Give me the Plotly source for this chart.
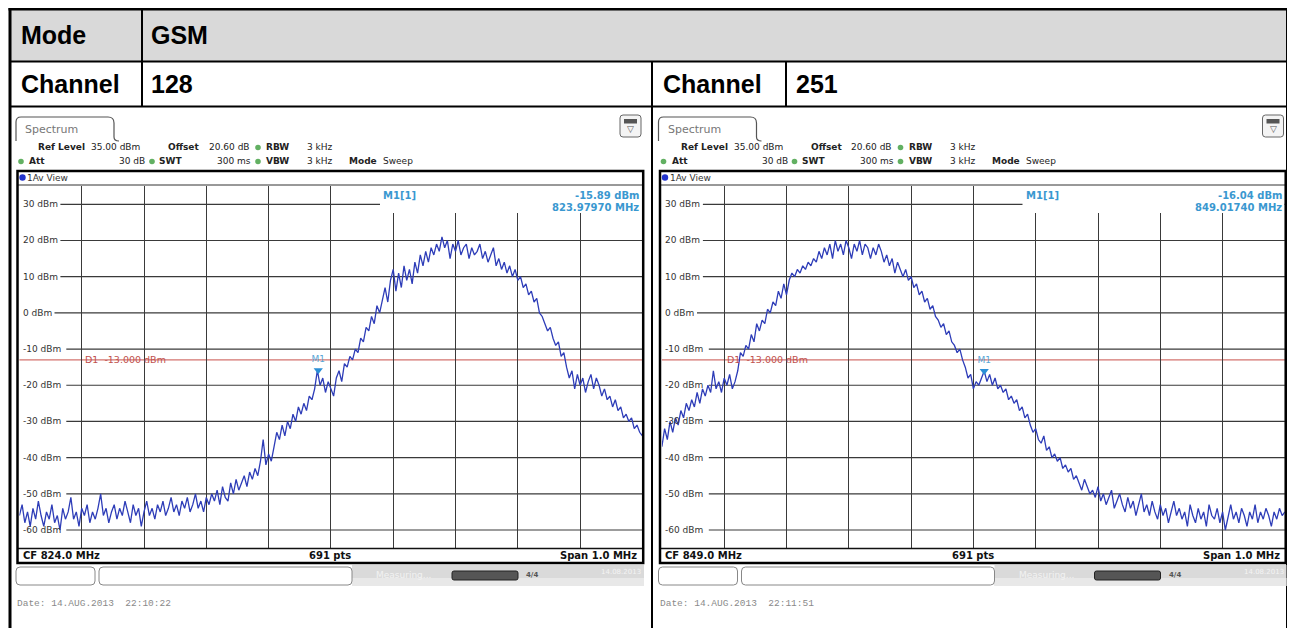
import numpy as np
import plotly.graph_objects as go

# page has an 8px body margin: figure is offset by it
OFF = 8
FW, FH = 1287, 620
FONT = "DejaVu Sans"
TFONT = "Liberation Sans"
MONO = "Liberation Mono"

# ---------------- data ----------------
mode_name = "GSM"
channels = ["128", "251"]
center_freqs_mhz = [824.0, 849.0]
span_mhz = 1.0
sweep_points = 691
ref_level_dbm = 35.0
bottom_level_dbm = -65.0
ytick_vals = [30, 20, 10, 0, -10, -20, -30, -40, -50, -60]
d1_limit_dbm = -13.0
marker_freqs_mhz = [823.97970, 849.01740]
marker_levels_dbm = [-15.89, -16.04]
sweep_date = "14.AUG.2013"
sweep_times = ["22:10:22", "22:11:51"]

setting_ref_level = "35.00 dBm"
setting_offset = "20.60 dB"
setting_rbw = "3 kHz"
setting_vbw = "3 kHz"
setting_att = "30 dB"
setting_swt = "300 ms"
setting_mode = "Sweep"

level_ch128 = [
    -56, -53, -58, -55, -59, -54, -57, -52, -56, -59,
    -55, -57, -53, -58, -56, -60, -54, -57, -55, -51,
    -57, -55, -59, -54, -56, -53, -58, -55, -57, -54,
    -50, -56, -54, -58, -55, -53, -57, -54, -56, -52,
    -55, -58, -53, -56, -54, -59, -55, -52, -56, -54,
    -57, -53, -55, -52, -56, -54, -51, -55, -53, -56,
    -52, -54, -51, -55, -53, -50, -54, -52, -55, -51,
    -53, -50, -52, -49, -53, -48, -51, -52, -47, -50,
    -46, -49, -47, -45, -48, -44, -46, -43, -45, -41,
    -35, -42, -39, -41, -37, -33, -35, -31, -34, -30,
    -32, -28, -30, -26, -28, -25, -27, -23, -24, -21,
    -15.89, -20, -18, -22, -19, -21, -23, -18, -16, -19,
    -14, -15, -12, -13, -10, -11, -7, -8, -4, -5,
    -1, -3, 2, 0, 4, 7, 3, 9, 12, 6,
    11, 7, 13, 9, 12, 8, 14, 11, 16, 13,
    17, 14, 18, 16, 19, 17, 21, 18, 20, 15,
    19, 17, 20, 16, 18, 19, 15, 18, 16, 17,
    19, 15, 17, 14, 16, 18, 13, 15, 12, 14,
    11, 13, 10, 12, 9, 10, 7, 8, 5, 6,
    3, 4, 0, -1, -3, -5, -4, -7, -9, -8,
    -12, -11, -15, -18, -16, -21, -17, -20, -18, -22,
    -19, -17, -21, -18, -20, -23, -21, -24, -23, -26,
    -24, -27, -26, -29, -28, -30, -29, -32, -31, -33,
    -34,
]

level_ch251 = [
    -37, -32, -35, -30, -33, -29, -31, -27, -29, -25,
    -27, -24, -26, -22, -25, -21, -23, -20, -22, -16,
    -21, -19, -22, -18, -20, -17, -21, -19, -16, -11,
    -12, -9, -10, -6, -8, -3, -5, -2, -3, 1,
    0, 3, 2, 6, 4, 8, 5, 9, 11, 10,
    12, 11, 13, 12, 14, 13, 15, 14, 17, 15,
    18, 16, 19, 15, 20, 17, 19, 16, 20, 18,
    15, 19, 17, 20, 16, 19, 18, 15, 18, 16,
    19, 17, 14, 16, 13, 15, 11, 14, 12, 10,
    12, 9, 10, 7, 8, 5, 6, 3, 4, 1,
    2, -1, -2, -4, -3, -6, -5, -8, -9, -11,
    -10, -13, -15, -18, -17, -21, -19, -20, -18, -16.04,
    -19, -17, -20, -18, -21, -20, -22, -21, -24, -23,
    -25, -24, -27, -26, -29, -28, -31, -33, -32, -35,
    -36, -34, -38, -37, -40, -39, -41, -40, -43, -42,
    -44, -43, -46, -45, -47, -49, -46, -48, -50, -49,
    -51, -48, -52, -50, -53, -51, -49, -54, -52, -50,
    -53, -55, -51, -54, -52, -56, -53, -50, -55, -53,
    -56, -52, -55, -57, -53, -56, -54, -58, -55, -52,
    -56, -54, -57, -55, -59, -53, -56, -58, -54, -57,
    -55, -59, -53, -56, -57, -54, -58, -55, -60, -56,
    -53, -57, -55, -58, -54, -56, -59, -55, -57, -53,
    -58, -55, -57, -54, -56, -59, -55, -57, -54, -56,
    -55,
]


# ---------------- helpers (reference page pixels -> paper) ----------------
def X(p):
    return (p - OFF) / FW


def Y(p):
    return 1 - (p - OFF) / FH


shapes, annots, traces = [], [], []


def add_line(x0, y0, x1, y1, color="#000", w=1.0, layer="above"):
    shapes.append(dict(type="line", xref="paper", yref="paper",
                       x0=X(x0), y0=Y(y0), x1=X(x1), y1=Y(y1),
                       line=dict(color=color, width=w), layer=layer))


def add_rect(x0, y0, x1, y1, fill="rgba(0,0,0,0)", color="rgba(0,0,0,0)", w=0, layer="above"):
    shapes.append(dict(type="rect", xref="paper", yref="paper",
                       x0=X(x0), y0=Y(y0), x1=X(x1), y1=Y(y1),
                       fillcolor=fill, line=dict(color=color, width=w), layer=layer))


def add_rrect(x0, y0, x1, y1, r, fill, color, w=1.0, layer="above"):
    p = (f"M {X(x0 + r)} {Y(y0)} L {X(x1 - r)} {Y(y0)} Q {X(x1)} {Y(y0)} {X(x1)} {Y(y0 + r)} "
         f"L {X(x1)} {Y(y1 - r)} Q {X(x1)} {Y(y1)} {X(x1 - r)} {Y(y1)} L {X(x0 + r)} {Y(y1)} "
         f"Q {X(x0)} {Y(y1)} {X(x0)} {Y(y1 - r)} L {X(x0)} {Y(y0 + r)} Q {X(x0)} {Y(y0)} {X(x0 + r)} {Y(y0)} Z")
    shapes.append(dict(type="path", xref="paper", yref="paper", path=p,
                       fillcolor=fill, line=dict(color=color, width=w), layer=layer))


def add_dot(cx, cy, r, color):
    shapes.append(dict(type="circle", xref="paper", yref="paper",
                       x0=X(cx - r), x1=X(cx + r), y0=Y(cy + r), y1=Y(cy - r),
                       fillcolor=color, line=dict(width=0), layer="above"))


def add_text(x, y, s, size=9, color="#222", anchor="left", family=FONT):
    annots.append(dict(xref="paper", yref="paper", x=X(x), y=Y(y), text=s, showarrow=False,
                       xanchor=anchor, yanchor="middle", borderpad=0,
                       font=dict(size=size, color=color, family=family)))


NB = "\u00a0"

# ---------------- table ----------------
RB = 1287.5  # right table border (kept inside the visible page)
add_rect(10, 9, RB, 61, fill="#d9d9d9", layer="below")
add_line(8.5, 9, RB + 1.5, 9, w=3)
add_line(10, 7.5, 10, 640, w=3)
add_line(RB, 7.5, RB, 640, w=3)
add_line(10, 61.5, RB, 61.5, w=2)
add_line(10, 106.5, RB, 106.5, w=2)
add_line(142, 9, 142, 106.5, w=2)
add_line(652, 61, 652, 640, w=2)
add_line(786, 61, 786, 106.5, w=2)

TS = 25
add_text(20, 35, "<b>Mode</b>", size=TS, color="#000", family=TFONT)
add_text(150, 35, f"<b>{mode_name}</b>", size=TS, color="#000", family=TFONT)
add_text(20, 84, "<b>Channel</b>", size=TS, color="#000", family=TFONT)
add_text(150, 84, f"<b>{channels[0]}</b>", size=TS, color="#000", family=TFONT)
add_text(662, 84, "<b>Channel</b>", size=TS, color="#000", family=TFONT)
add_text(795, 84, f"<b>{channels[1]}</b>", size=TS, color="#000", family=TFONT)

# ---------------- spectrum panels ----------------
PL, PR, PT, PB = 19.4, 642.4, 186.2, 548.1
offsets = [0.0, 642.5]
levels_all = [level_ch128, level_ch251]
GRID = "#3a3a3a"
GREEN = "#62b062"
MKC = "#3a98d0"
layout_axes = {}

for k in range(2):
    ox = offsets[k]
    cf = center_freqs_mhz[k]
    f0, f1 = cf - span_mhz / 2, cf + span_mhz / 2
    levels = levels_all[k]
    freqs = np.linspace(f0, f1, len(levels))
    xa, ya = ("xaxis", "yaxis") if k == 0 else ("xaxis2", "yaxis2")
    xr, yr = ("x", "y") if k == 0 else ("x2", "y2")

    layout_axes[xa] = dict(domain=[X(PL + ox), X(PR + ox)], range=[f0, f1],
                           showgrid=True, gridcolor=GRID, gridwidth=1.2,
                           tickmode="array", tickvals=list(np.linspace(f0, f1, 11)),
                           showticklabels=False, ticks="", zeroline=False,
                           showline=False, anchor=yr, fixedrange=True)
    layout_axes[ya] = dict(domain=[Y(PB), Y(PT)], range=[bottom_level_dbm, ref_level_dbm],
                           showgrid=False, showticklabels=False, ticks="", zeroline=False,
                           showline=False, anchor=xr, fixedrange=True)

    # horizontal grid + labels
    for v in ytick_vals:
        lab = f"{v} dBm"
        start = 22 + 5.9 * len(lab) + 3
        shapes.append(dict(type="line", xref=f"{xr} domain", yref=yr,
                           x0=(start - PL) / (PR - PL), x1=1, y0=v, y1=v,
                           line=dict(color=GRID, width=1.2), layer="below"))
        annots.append(dict(xref="paper", yref=yr, x=X(22 + ox), y=v, text=lab,
                           showarrow=False, xanchor="left", yanchor="middle", borderpad=0,
                           font=dict(size=9, color="#333", family=FONT)))

    # D1 limit line
    shapes.append(dict(type="line", xref=f"{xr} domain", yref=yr, x0=0, x1=1,
                       y0=d1_limit_dbm, y1=d1_limit_dbm,
                       line=dict(color="#c8504a", width=1), layer="below"))
    annots.append(dict(xref=xr, yref=yr, x=f0 + span_mhz / 10, y=d1_limit_dbm,
                       text=f"D1{NB}{NB}{d1_limit_dbm:.3f} dBm", showarrow=False,
                       xanchor="left", yanchor="middle", xshift=2, borderpad=0,
                       font=dict(size=9.5, color="#c0504d", family=FONT)))

    # trace
    traces.append(go.Scatter(x=freqs, y=levels, xaxis=xr, yaxis=yr, mode="lines",
                             line=dict(color="#2e3db8", width=1.3), hoverinfo="skip"))
    # marker
    traces.append(go.Scatter(x=[marker_freqs_mhz[k]], y=[marker_levels_dbm[k]], xaxis=xr, yaxis=yr,
                             mode="markers+text", text=["M1"], textposition="top center",
                             textfont=dict(size=9, color="#5aa6d6", family=FONT),
                             marker=dict(symbol="triangle-down", size=8, color="#2b8fd6"),
                             hoverinfo="skip"))

    # marker info box
    add_rect(380 + ox, 186, 642 + ox, 213, fill="white")
    add_text(382 + ox, 195, "<b>M1[1]</b>", size=10, color=MKC)
    add_text(640 + ox, 195, f"<b>{marker_levels_dbm[k]:.2f} dBm</b>", size=10, color=MKC, anchor="right")
    add_text(640 + ox, 208, f"<b>{marker_freqs_mhz[k]:.5f} MHz</b>", size=10, color=MKC, anchor="right")

    # diagram frame
    add_line(18 + ox, 185, 643 + ox, 185, color="#333", w=1)
    add_line(18 + ox, 548.5, 643 + ox, 548.5, color="#111", w=1.5)
    add_rect(17.5 + ox, 171, 643.2 + ox, 563, color="#000", w=2.5)
    add_dot(22.5 + ox, 177.5, 3.2, "#2233cc")
    add_text(26 + ox, 177.5, "1Av View", size=9, color="#333")

    # footer
    add_text(22 + ox, 555.5, f"<b>CF {cf:.1f} MHz</b>", size=10, color="#111")
    add_text(330 + ox, 555.5, f"<b>{sweep_points} pts</b>", size=10, color="#111", anchor="center")
    add_text(638 + ox, 555.5, f"<b>Span {span_mhz:.1f} MHz</b>", size=10, color="#111", anchor="right")

    # tab
    tab = (f"M {X(16 + ox)} {Y(141)} L {X(16 + ox)} {Y(122)} Q {X(16 + ox)} {Y(117)} {X(21 + ox)} {Y(117)} "
           f"L {X(108 + ox)} {Y(117)} Q {X(114 + ox)} {Y(117)} {X(114 + ox)} {Y(123)} "
           f"L {X(114 + ox)} {Y(137)} Q {X(114 + ox)} {Y(141)} {X(119 + ox)} {Y(141)}")
    shapes.append(dict(type="path", xref="paper", yref="paper", path=tab,
                       line=dict(color="#555", width=1.2), layer="above"))
    add_text(24 + ox, 129, "Spectrum", size=11, color="#777")

    # icon
    add_rrect(620 + ox, 115, 641 + ox, 137, 3, "#f4f4f4", "#666", 1)
    add_rect(624 + ox, 119, 637 + ox, 123.5, fill="#555")
    add_text(630.5 + ox, 129.5, "\u25bd", size=9, color="#555", anchor="center")

    # header lines
    add_text(37 + ox, 147, "<b>Ref Level</b>", size=9)
    add_text(90 + ox, 147, setting_ref_level, size=9)
    add_text(167 + ox, 147, "<b>Offset</b>", size=9)
    add_text(208 + ox, 147, setting_offset, size=9)
    add_dot(258 + ox, 147.5, 2.8, GREEN)
    add_text(265 + ox, 147, "<b>RBW</b>", size=9)
    add_text(306 + ox, 147, setting_rbw, size=9)

    add_dot(21 + ox, 161.5, 2.8, GREEN)
    add_text(28 + ox, 161, "<b>Att</b>", size=9)
    add_text(146 + ox, 161, setting_att, size=9, anchor="right")
    add_dot(152 + ox, 161.5, 2.8, GREEN)
    add_text(158 + ox, 161, "<b>SWT</b>", size=9)
    add_text(252 + ox, 161, setting_swt, size=9, anchor="right")
    add_dot(258 + ox, 161.5, 2.8, GREEN)
    add_text(265 + ox, 161, "<b>VBW</b>", size=9)
    add_text(306 + ox, 161, setting_vbw, size=9)
    add_text(348 + ox, 161, "<b>Mode</b>", size=9)
    add_text(382 + ox, 161, setting_mode, size=9)

    # status bar
    add_rect(352 + ox, 565, 644 + ox, 586, fill="#dadada")
    add_rect(352 + ox, 578, 644 + ox, 586, fill="#e8e8e8")
    add_rrect(16 + ox, 567, 95 + ox, 585, 4, "white", "#888", 1)
    add_rrect(99 + ox, 567, 352 + ox, 585, 4, "white", "#888", 1)
    add_text(375 + ox, 575, "Measuring...", size=9, color="#f2f2f2")
    add_rrect(452 + ox, 571, 518 + ox, 580, 2, "#555", "#222", 1)
    add_text(532 + ox, 575, "<b>4/4</b>", size=7, color="#555", anchor="center")
    add_text(600 + ox, 572, "14.08.2013", size=7, color="#f4f4f4")

    add_text(16 + ox, 603, f"Date:{NB}{sweep_date}{NB}{NB}{sweep_times[k]}", size=9.5,
             color="#8a8a8a", family=MONO)

fig = go.Figure(data=traces)
fig.update_layout(
    width=FW, height=FH, margin=dict(l=0, r=0, t=0, b=0),
    paper_bgcolor="white", plot_bgcolor="white", showlegend=False,
    shapes=shapes, annotations=annots, **layout_axes,
)
fig.write_html("out.html", config={"displayModeBar": False})
